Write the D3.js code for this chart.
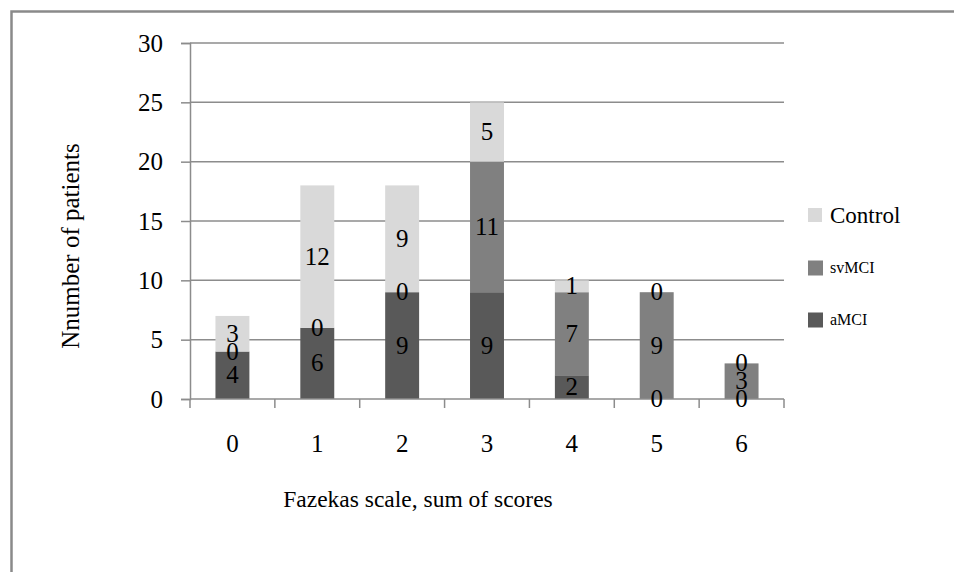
<!DOCTYPE html>
<html>
<head>
<meta charset="utf-8">
<script src="https://cdn.jsdelivr.net/npm/d3@7"></script>
<style>
  html, body { margin: 0; padding: 0; background: #fff; }
  svg, svg text { font-family: "Liberation Serif", "DejaVu Serif", "Times New Roman", Times, serif !important; }
</style>
</head>
<body>
<svg id="chart" width="954" height="572"></svg>
<script>
// Fazekas score groups (sum of scores)
const categories = ["0", "1", "2", "3", "4", "5", "6"];
// Patient counts per group, stacked bottom to top
const aMCI    = [4, 6, 9, 9, 2, 0, 0];
const svMCI   = [0, 0, 0, 11, 7, 9, 3];
const control = [3, 12, 9, 5, 1, 0, 0];
const seriesNames = ["aMCI", "svMCI", "Control"];
const yTicks = [0, 5, 10, 15, 20, 25, 30];

const colors = { aMCI: "#595959", svMCI: "#808080", Control: "#d9d9d9" };
const gridColor = "#8c8c8c";
const serif = "'Liberation Serif', 'DejaVu Serif', 'Times New Roman', Times, serif";

const svg = d3.select("#chart").attr("font-family", serif);

// outer frame (left and top edges visible)
svg.append("path")
  .attr("d", "M11.5,572V11.5H954")
  .attr("fill", "none")
  .attr("stroke", "#8a8a8a")
  .attr("stroke-width", 2.5);

const plot = { left: 190, right: 784, top: 43, bottom: 399 };

const x = d3.scaleBand()
  .domain(categories)
  .range([plot.left, plot.right])
  .paddingInner(0.6)
  .paddingOuter(0.3);

const xEdge = d3.scaleLinear()
  .domain([0, categories.length])
  .range([plot.left, plot.right]);

const y = d3.scaleLinear().domain([0, 30]).range([plot.bottom, plot.top]);

// stacked data
const rows = categories.map((c, i) => ({
  cat: c, aMCI: aMCI[i], svMCI: svMCI[i], Control: control[i]
}));
const stacked = d3.stack().keys(seriesNames)(rows);

// horizontal gridlines
svg.append("g").selectAll("line")
  .data(yTicks.filter(t => t > 0))
  .join("line")
  .attr("x1", plot.left).attr("x2", plot.right)
  .attr("y1", d => y(d)).attr("y2", d => y(d))
  .attr("stroke", gridColor).attr("stroke-width", 1.5);

// y axis
const yAxis = svg.append("g")
  .attr("transform", `translate(${plot.left},0)`)
  .call(d3.axisLeft(y).tickValues(yTicks).tickSize(9).tickPadding(18))
  .attr("font-family", serif);
yAxis.select(".domain").attr("stroke", gridColor).attr("stroke-width", 1.5);
yAxis.selectAll(".tick line").attr("stroke", gridColor).attr("stroke-width", 1.5);
yAxis.selectAll(".tick text")
  .attr("font-size", 25).attr("fill", "#000");

// bars
const layer = svg.append("g").selectAll("g")
  .data(stacked)
  .join("g")
  .attr("fill", d => colors[d.key]);
layer.selectAll("rect")
  .data(d => d)
  .join("rect")
  .attr("x", d => x(d.data.cat))
  .attr("width", x.bandwidth())
  .attr("y", d => y(d[1]))
  .attr("height", d => y(d[0]) - y(d[1]));

// x axis with ticks on category boundaries
svg.append("line")
  .attr("x1", plot.left).attr("x2", plot.right)
  .attr("y1", plot.bottom).attr("y2", plot.bottom)
  .attr("stroke", gridColor).attr("stroke-width", 1.5);
svg.append("g").selectAll("line")
  .data(d3.range(categories.length + 1))
  .join("line")
  .attr("x1", d => xEdge(d)).attr("x2", d => xEdge(d))
  .attr("y1", plot.bottom).attr("y2", plot.bottom + 9)
  .attr("stroke", gridColor).attr("stroke-width", 1.5);
svg.append("g").selectAll("text")
  .data(categories)
  .join("text")
  .attr("x", d => x(d) + x.bandwidth() / 2)
  .attr("y", 452)
  .attr("text-anchor", "middle")
  .attr("font-size", 25)
  .text(d => d);

// value labels centred on each segment
stacked.forEach(s => {
  svg.append("g").selectAll("text")
    .data(s)
    .join("text")
    .attr("x", d => x(d.data.cat) + x.bandwidth() / 2)
    .attr("y", d => y((d[0] + d[1]) / 2) + 8)
    .attr("text-anchor", "middle")
    .attr("font-size", 25)
    .attr("fill", "#000")
    .text(d => d[1] - d[0]);
});

// axis titles
svg.append("text")
  .attr("x", 418).attr("y", 507)
  .attr("text-anchor", "middle")
  .attr("font-size", 23.5)
  .text("Fazekas scale, sum of scores");
svg.append("text")
  .attr("transform", "translate(79,246) rotate(-90)")
  .attr("text-anchor", "middle")
  .attr("font-size", 25)
  .text("Nnumber of patients");

// legend (top to bottom: Control, svMCI, aMCI)
const legendItems = [
  { name: "Control", y: 215, size: 23, box: 14 },
  { name: "svMCI", y: 268, size: 16, box: 15 },
  { name: "aMCI", y: 320, size: 16, box: 15 }
];
const legend = svg.append("g");
legend.selectAll("rect")
  .data(legendItems)
  .join("rect")
  .attr("x", 808).attr("y", d => d.y - d.box / 2)
  .attr("width", d => d.box).attr("height", d => d.box)
  .attr("fill", d => colors[d.name]);
legend.selectAll("text")
  .data(legendItems)
  .join("text")
  .attr("x", 830).attr("y", d => d.y + d.size * 0.33)
  .attr("font-size", d => d.size)
  .text(d => d.name);
</script>
</body>
</html>
